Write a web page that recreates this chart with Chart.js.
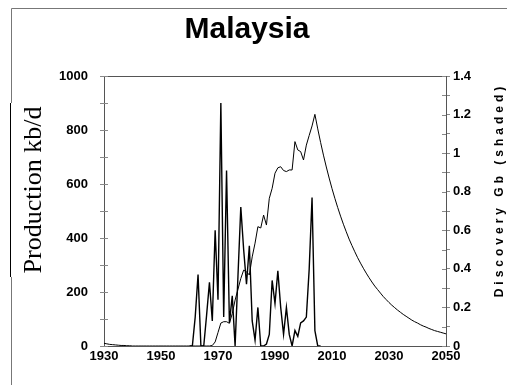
<!DOCTYPE html>
<html lang="en">
<head>
  <meta charset="UTF-8">
  <title>Malaysia - production and discovery</title>
  <script src="https://cdn.jsdelivr.net/npm/chart.js"></script>
  <style>
    html, body { margin: 0; padding: 0; background: #fff; }
    #wrap { position: relative; width: 507px; height: 385px; }
  </style>
</head>
<body>
  <div id="wrap"><canvas id="malaysiaChart"></canvas></div>
  <script>
    // x axis
    const xTicks = [1930, 1950, 1970, 1990, 2010, 2030, 2050];

    // production kb/d, one value a year, 1930..2050
    const productionStart = 1930;
    const production = [
      10, 8, 6, 5, 4, 3, 2, 2, 1, 1,                       // 1930s
      0, 0, 0, 0, 0, 0, 0, 0, 0, 0,                        // 1940s
      0, 0, 0, 0, 0, 0, 0, 0, 0, 0,                        // 1950s
      0, 0, 0, 0, 0, 0, 0, 0, 2, 15,                       // 1960s
      50, 85, 90, 90, 84, 120, 170, 210, 250, 281,         // 1970s
      275, 263, 330, 381, 442, 437, 485, 448, 547, 584,    // 1980s
      640, 660, 664, 650, 646, 652, 652, 757, 726, 720,    // 1990s
      689, 744, 780, 815, 858, 804, 754, 707, 663, 622,    // 2000s
      583, 547, 513, 481, 451, 423, 396, 372, 349, 327,    // 2010s
      307, 288, 270, 253, 237, 222, 209, 196, 183, 172,    // 2020s
      161, 151, 142, 133, 125, 117, 110, 103, 96, 90,      // 2030s
      85, 79, 74, 70, 65, 61, 57, 54, 51, 48,              // 2040s
      45                                                   // 2050
    ];

    // discovery Gb, one value a year, 1960..2006
    const discoveryStart = 1960;
    const discovery = [
      0, 0, 0.15, 0.37, 0, 0, 0.16, 0.33, 0.13, 0.60,          // 1960s
      0.24, 1.26, 0.15, 0.91, 0.12, 0.26, 0, 0.36, 0.72, 0.50, // 1970s
      0.32, 0.52, 0.13, 0.03, 0.20, 0, 0, 0.01, 0.06, 0.34,    // 1980s
      0.22, 0.39, 0.20, 0.06, 0.20, 0.06, 0, 0.08, 0.05, 0.12, // 1990s
      0.13, 0.15, 0.40, 0.77, 0.08, 0, 0                       // 2000s
    ];

    // tick labels
    const prodTicks = [0, 200, 400, 600, 800, 1000];
    const discTicks = [0, 0.2, 0.4, 0.6, 0.8, 1, 1.2, 1.4];
    const discTickLabels = ['0', '0.2', '0.4', '0.6', '0.8', '1', '1.2', '1.4'];

    const toPoints = (start, values) => values.map((v, i) => ({ x: start + i, y: v }));

    // major ticks plus a minor one half way between each pair
    function withMinor(major) {
      const out = [];
      major.forEach((v, i) => {
        out.push({ value: v });
        if (i < major.length - 1) out.push({ value: (v + major[i + 1]) / 2 });
      });
      return out;
    }

    const labelFont = { family: '"Liberation Sans", Arial, sans-serif', size: 13, weight: 'bold' };

    // frame, plot box, inner tick marks and the texts drawn by hand
    const decorations = {
      id: 'decorations',
      afterDraw(chart) {
        const { ctx, chartArea: a } = chart;
        ctx.save();

        // outer frame
        ctx.strokeStyle = '#777';
        ctx.lineWidth = 1;
        ctx.beginPath();
        ctx.moveTo(11.5, 103);
        ctx.lineTo(11.5, 8.5);
        ctx.lineTo(507, 8.5);
        ctx.moveTo(11.5, 277);
        ctx.lineTo(11.5, 385);
        ctx.stroke();
        ctx.strokeStyle = '#000';
        ctx.beginPath();
        ctx.moveTo(10.5, 103);
        ctx.lineTo(10.5, 277);
        ctx.stroke();

        // top of the plot box
        ctx.strokeStyle = '#555';
        ctx.beginPath();
        ctx.moveTo(a.left, Math.round(a.top) + 0.5);
        ctx.lineTo(a.right, Math.round(a.top) + 0.5);
        ctx.stroke();

        // tick marks that reach inside the box
        ctx.strokeStyle = '#888';
        ctx.beginPath();
        const y = chart.scales.y, y1 = chart.scales.y1;
        y.ticks.forEach(t => {
          const p = Math.round(y.getPixelForValue(t.value)) + 0.5;
          ctx.moveTo(a.left, p);
          ctx.lineTo(a.left + 4, p);
        });
        y1.ticks.forEach(t => {
          const p = Math.round(y1.getPixelForValue(t.value)) + 0.5;
          ctx.moveTo(a.right - 4, p);
          ctx.lineTo(a.right, p);
        });
        ctx.stroke();

        // title
        ctx.fillStyle = '#000';
        ctx.font = 'bold 30px "Liberation Sans", Arial, sans-serif';
        ctx.textAlign = 'center';
        ctx.textBaseline = 'middle';
        ctx.fillText('Malaysia', 247, 30);

        // left axis title
        ctx.save();
        ctx.translate(41, 190);
        ctx.rotate(-Math.PI / 2);
        ctx.font = '26px "Liberation Serif", "Times New Roman", serif';
        ctx.textBaseline = 'alphabetic';
        ctx.fillText('Production kb/d', 0, 0);
        ctx.restore();

        // right axis title, spaced out
        ctx.translate(500, 192);
        ctx.rotate(-Math.PI / 2);
        ctx.font = 'bold 12px "Liberation Sans", Arial, sans-serif';
        ctx.letterSpacing = '4px';
        ctx.fillText('Discovery Gb (shaded)', 2, 0);

        ctx.restore();
      }
    };

    new Chart(document.getElementById('malaysiaChart'), {
      type: 'line',
      data: {
        datasets: [
          {
            label: 'Production kb/d',
            data: toPoints(productionStart, production),
            yAxisID: 'y',
            borderColor: '#000',
            borderWidth: 1,
            pointRadius: 0,
            tension: 0,
            fill: false
          },
          {
            label: 'Discovery Gb',
            data: toPoints(discoveryStart, discovery),
            yAxisID: 'y1',
            borderColor: '#000',
            borderWidth: 1.4,
            pointRadius: 0,
            tension: 0,
            fill: false
          }
        ]
      },
      options: {
        responsive: true,
        maintainAspectRatio: false,
        animation: false,
        layout: { padding: { top: 76, left: 0, right: 0, bottom: 0 } },
        plugins: {
          legend: { display: false },
          tooltip: { enabled: false },
          title: { display: false }
        },
        scales: {
          x: {
            type: 'linear',
            min: xTicks[0],
            max: xTicks[xTicks.length - 1],
            afterBuildTicks: s => { s.ticks = xTicks.map(v => ({ value: v })); },
            ticks: { callback: v => String(v), font: labelFont, color: '#000', padding: 3, maxRotation: 0 },
            grid: { display: false, drawTicks: false },
            border: { display: true, color: '#555' },
            afterFit: s => { s.height = 39; }
          },
          y: {
            position: 'left',
            min: 0,
            max: 1000,
            afterBuildTicks: s => { s.ticks = withMinor(prodTicks); },
            ticks: {
              callback: v => (prodTicks.includes(v) ? String(v) : ''),
              font: labelFont, color: '#000', padding: 12
            },
            grid: { drawOnChartArea: false, drawTicks: true, tickLength: 4, color: '#888' },
            border: { display: true, color: '#555' },
            afterFit: s => { s.width = 104; }
          },
          y1: {
            position: 'right',
            min: 0,
            max: 1.4,
            afterBuildTicks: s => { s.ticks = withMinor(discTicks); },
            ticks: {
              callback: v => {
                const i = discTicks.findIndex(t => Math.abs(t - v) < 1e-6);
                return i >= 0 ? discTickLabels[i] : '';
              },
              font: labelFont, color: '#000', padding: 3
            },
            grid: { drawOnChartArea: false, drawTicks: true, tickLength: 4, color: '#888' },
            border: { display: true, color: '#555' },
            afterFit: s => { s.width = 61; }
          }
        }
      },
      plugins: [decorations]
    });
  </script>
</body>
</html>
